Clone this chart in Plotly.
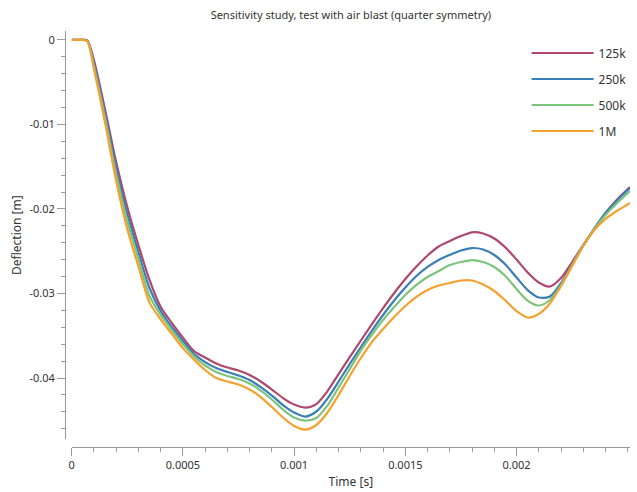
import plotly.graph_objects as go

time_s = [0, 0.00005, 0.00007, 0.0001, 0.00015, 0.0002, 0.00025, 0.0003, 0.00035, 0.0004,
          0.00045, 0.0005, 0.00055, 0.0006, 0.00065, 0.0007, 0.00075, 0.0008, 0.00085, 0.0009,
          0.00095, 0.001, 0.00105, 0.0011, 0.00115, 0.0012, 0.00125, 0.0013, 0.00135, 0.0014,
          0.00145, 0.0015, 0.00155, 0.0016, 0.00165, 0.0017, 0.00175, 0.0018, 0.00185, 0.0019,
          0.00195, 0.002, 0.00205, 0.0021, 0.00215, 0.0022, 0.00225, 0.0023, 0.00235, 0.0024,
          0.00245, 0.0025, 0.00251]

defl_125k = [0, 0, -0.00005, -0.00237, -0.00823, -0.01444, -0.01976, -0.02426, -0.02840, -0.03157,
             -0.03349, -0.03522, -0.03681, -0.03757, -0.03828, -0.03876, -0.03911, -0.03964, -0.04041, -0.04136,
             -0.04237, -0.04314, -0.04349, -0.04308, -0.04154, -0.03953, -0.03752, -0.03556, -0.03361, -0.03172,
             -0.02994, -0.02828, -0.02680, -0.02550, -0.02444, -0.02379, -0.02320, -0.02276, -0.02290, -0.02349,
             -0.02456, -0.02598, -0.02751, -0.02870, -0.02917, -0.02817, -0.02627, -0.02426, -0.02231, -0.02047,
             -0.01893, -0.01763, -0.01740]

defl_250k = [0, 0, -0.00007, -0.00272, -0.00876, -0.01515, -0.02059, -0.02509, -0.02935, -0.03207,
             -0.03396, -0.03562, -0.03716, -0.03811, -0.03882, -0.03929, -0.03970, -0.04024, -0.04107, -0.04207,
             -0.04320, -0.04408, -0.04456, -0.04396, -0.04243, -0.04041, -0.03834, -0.03633, -0.03438, -0.03254,
             -0.03083, -0.02929, -0.02793, -0.02686, -0.02604, -0.02544, -0.02491, -0.02462, -0.02479, -0.02544,
             -0.02657, -0.02811, -0.02959, -0.03047, -0.03036, -0.02876, -0.02657, -0.02432, -0.02231, -0.02047,
             -0.01905, -0.01775, -0.01752]

defl_500k = [0, 0, -0.00009, -0.00308, -0.00923, -0.01586, -0.02142, -0.02592, -0.03030, -0.03254,
             -0.03432, -0.03598, -0.03746, -0.03852, -0.03929, -0.03976, -0.04012, -0.04065, -0.04148, -0.04254,
             -0.04373, -0.04467, -0.04503, -0.04473, -0.04325, -0.04112, -0.03894, -0.03675, -0.03485, -0.03314,
             -0.03160, -0.03018, -0.02899, -0.02805, -0.02734, -0.02663, -0.02627, -0.02604, -0.02627, -0.02686,
             -0.02793, -0.02947, -0.03083, -0.03142, -0.03077, -0.02899, -0.02663, -0.02432, -0.02237, -0.02071,
             -0.01935, -0.01811, -0.01787]

defl_1M = [0, 0, -0.00012, -0.00343, -0.00978, -0.01665, -0.02237, -0.02678, -0.03108, -0.03305,
           -0.03476, -0.03646, -0.03782, -0.03905, -0.04000, -0.04041, -0.04077, -0.04136, -0.04225, -0.04343,
           -0.04467, -0.04568, -0.04610, -0.04556, -0.04408, -0.04201, -0.03976, -0.03763, -0.03574, -0.03420,
           -0.03278, -0.03148, -0.03041, -0.02959, -0.02905, -0.02876, -0.02846, -0.02846, -0.02893, -0.02970,
           -0.03083, -0.03207, -0.03284, -0.03243, -0.03118, -0.02911, -0.02675, -0.02438, -0.02249, -0.02118,
           -0.02024, -0.01947, -0.01929]

series_names = ["125k", "250k", "500k", "1M"]
series_values = [defl_125k, defl_250k, defl_500k, defl_1M]
series_colors = ["#B0476E", "#3A7EB8", "#7CC47A", "#F6A030"]

x_tick_vals = [0, 0.0005, 0.001, 0.0015, 0.002]
x_tick_text = ["0", "0.0005", "0.001", "0.0015", "0.002"]
y_tick_vals = [0, -0.01, -0.02, -0.03, -0.04]
y_tick_text = ["0", "-0.01", "-0.02", "-0.03", "-0.04"]

FONT = "Noto Sans"
TXT = "#333333"
AX = "#9a9a9a"

fig = go.Figure()
for name, vals, col in zip(series_names, series_values, series_colors):
    fig.add_trace(go.Scatter(
        x=time_s, y=vals, name=name, mode="lines", legendgroup=name,
        line=dict(color=col, width=2.2, shape="spline", smoothing=0.8),
    ))

fig.update_layout(
    width=637, height=492,
    margin=dict(l=65, r=5, t=31, b=45),
    paper_bgcolor="white", plot_bgcolor="white",
    font=dict(family=FONT, size=11, color=TXT),
    title=dict(text="Sensitivity study, test with air blast (quarter symmetry)",
               xref="paper", x=0.506, xanchor="center",
               yref="container", y=1 - 15 / 492, yanchor="middle",
               font=dict(family=FONT, size=11, color=TXT)),
    showlegend=True,
    legend=dict(x=0.817, y=0.982, xanchor="left", yanchor="top",
                traceorder="grouped", tracegroupgap=7, itemwidth=62,
                bgcolor="rgba(0,0,0,0)", font=dict(family=FONT, size=12, color=TXT)),
    xaxis=dict(
        domain=[0.0118, 1.0], range=[0, 0.00251], anchor="free", position=0,
        showgrid=False, zeroline=False, showline=True, linecolor=AX, linewidth=1,
        tickmode="array", tickvals=x_tick_vals, ticktext=x_tick_text,
        ticks="outside", ticklen=8, tickcolor=AX, tickwidth=1,
        minor=dict(dtick=0.0001, tick0=0, ticks="outside", ticklen=4, tickcolor=AX, tickwidth=1, showgrid=False),
        title=dict(text="Time [s]", standoff=6, font=dict(family=FONT, size=12, color=TXT)),
    ),
    yaxis=dict(
        domain=[0.0185, 1.0], range=[-0.04725, 0.00106], anchor="free", position=0,
        showgrid=False, zeroline=False, showline=True, linecolor=AX, linewidth=1,
        tickmode="array", tickvals=y_tick_vals, ticktext=y_tick_text,
        ticks="outside", ticklen=8, tickcolor=AX, tickwidth=1,
        minor=dict(dtick=0.002, tick0=0, ticks="outside", ticklen=4, tickcolor=AX, tickwidth=1, showgrid=False),
        title=dict(text="Deflection [m]", standoff=4, font=dict(family=FONT, size=12, color=TXT)),
    ),
)

fig.write_html("out.html")
